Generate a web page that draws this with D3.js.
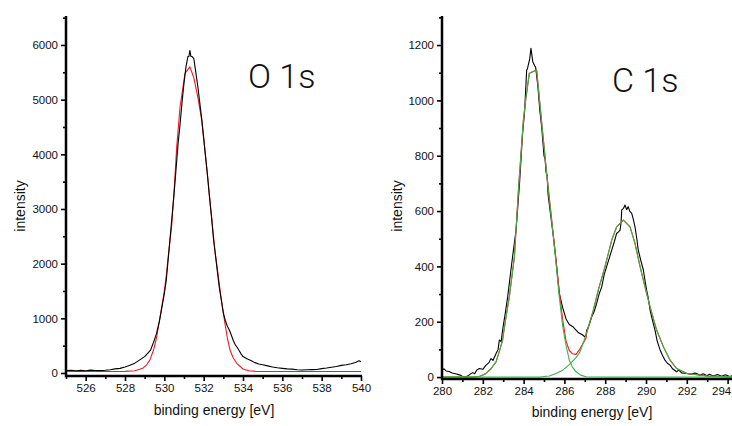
<!DOCTYPE html>
<html>
<head>
<meta charset="utf-8">
<script src="https://cdn.jsdelivr.net/npm/d3@7"></script>
<style>
html,body{margin:0;padding:0;background:#fff;}
svg{display:block;}
text{font-family:"Liberation Sans",Arial,sans-serif;fill:#111;}
</style>
</head>
<body>
<svg id="chart" width="732" height="426"></svg>
<script>
// ---------- O 1s panel ----------
const o1sEnergy = [525.0,525.25,525.5,525.75,526.0,526.25,526.5,526.75,527.0,527.25,527.5,527.75,528.0,528.25,528.5,528.75,529.0,529.15,529.3,529.45,529.6,529.75,529.9,530.0,530.1,530.2,530.3,530.4,530.5,530.6,530.7,530.8,530.9,531.0,531.1,531.2,531.25,531.3,531.35,531.4,531.5,531.6,531.7,531.8,531.9,532.0,532.1,532.2,532.3,532.4,532.5,532.6,532.7,532.8,532.9,533.0,533.1,533.2,533.3,533.4,533.5,533.6,533.7,533.8,533.9,534.0,534.2,534.4,534.6,534.8,535.0,535.25,535.5,535.75,536.0,536.25,536.5,536.75,537.0,537.25,537.5,537.75,538.0,538.25,538.5,538.75,539.0,539.25,539.5,539.75,539.9,540.0];
const o1sMeasured = [45,50,42,48,40,52,45,44,50,60,75,85,110,140,180,240,300,360,420,560,720,950,1250,1450,1700,2100,2500,2900,3300,3750,4200,4550,4950,5300,5600,5790,5790,5900,5790,5790,5750,5500,5250,4950,4650,4300,3950,3600,3200,2850,2450,2150,1850,1550,1330,1100,960,860,790,700,600,520,470,410,350,300,260,230,190,165,150,130,110,95,85,75,70,60,55,58,62,65,80,90,105,120,140,150,170,195,225,205];
const o1sFitEnergy = [525.0,527.0,528.0,528.5,528.9,529.1,529.27,529.45,529.6,529.7,529.8,530.0,530.1,530.2,530.37,530.5,530.63,530.8,531.05,531.3,531.5,531.7,531.9,532.15,532.4,532.57,532.75,532.9,533.08,533.2,533.34,533.5,533.68,534.0,534.3,534.7,540.0];
const o1sFit = [28,28,30,40,85,150,240,420,640,850,1060,1500,1790,2130,2680,3350,4140,4870,5480,5600,5400,5050,4630,3770,2860,2250,1750,1335,910,650,420,280,177,73,40,28,28];
const o1sXTicks = [526,528,530,532,534,536,538,540];
const o1sYTicks = [0,1000,2000,3000,4000,5000,6000];

// ---------- C 1s panel ----------
const c1sEnergy = [280.0,280.1,280.2,280.35,280.5,280.7,280.85,281.0,281.18,281.3,281.5,281.6,281.7,281.83,282.0,282.16,282.3,282.4,282.5,282.65,282.75,282.81,282.9,282.97,283.1,283.22,283.35,283.46,283.63,283.8,283.95,284.05,284.15,284.18,284.3,284.36,284.45,284.55,284.59,284.7,284.8,284.89,285.0,285.05,285.1,285.15,285.2,285.3,285.46,285.59,285.75,285.92,286.08,286.24,286.4,286.57,286.7,286.9,287.0,287.06,287.1,287.2,287.34,287.45,287.58,287.7,287.83,287.95,288.07,288.2,288.32,288.45,288.56,288.65,288.73,288.78,288.81,288.9,288.97,289.05,289.13,289.2,289.3,289.38,289.46,289.55,289.62,289.75,289.87,289.95,290.03,290.1,290.2,290.3,290.44,290.55,290.69,290.8,290.93,291.05,291.18,291.3,291.5,291.6,291.75,292.0,292.2,292.4,292.65,292.8,293.0,293.1,293.3,293.5,293.7,293.9,294.1,294.3,294.5];
const c1sMeasured = [25,30,22,20,15,11,8,3,1,6,16,12,25,31,28,43,52,67,60,85,100,134,128,170,230,290,370,435,531,700,880,960,1110,1112,1150,1188,1140,1124,1120,1050,960,900,800,790,740,730,660,600,507,420,302,250,210,190,183,170,160,152,145,153,170,185,218,235,266,300,326,370,399,430,459,490,519,525,531,560,604,610,622,605,616,600,592,570,543,500,459,420,387,350,314,290,242,210,170,130,98,80,61,50,43,30,19,25,15,13,10,15,7,12,5,10,4,9,3,8,2,6,3];
const c1sPeak1Energy = [280.0,281.5,281.83,282.16,282.4,282.65,282.8,282.97,283.1,283.3,283.55,283.75,283.99,284.1,284.28,284.64,284.89,285.13,285.46,285.59,285.75,285.92,286.08,286.24,286.4,286.57,286.8,287.06,288.0,294.5];
const c1sPeak1 = [0,0,2,13,30,55,90,134,200,290,435,680,929,1000,1098,1110,917,736,507,411,290,182,115,61,35,19,7,1,0,0];
const c1sPeak2Energy = [280.0,284.8,285.26,285.59,285.92,286.24,286.57,286.76,287.09,287.42,287.66,287.99,288.32,288.56,288.89,289.22,289.46,289.71,289.95,290.2,290.52,290.85,291.18,291.5,292.0,293.0,294.5];
const c1sPeak2 = [0,0,4,13,25,45,70,90,158,242,314,399,495,543,567,543,483,399,326,254,170,110,61,31,13,4,0];
const c1sSumEnergy = [280.0,281.5,281.83,282.16,282.4,282.65,282.8,282.97,283.1,283.3,283.55,283.75,283.99,284.1,284.28,284.64,284.89,285.13,285.46,285.59,285.75,285.92,286.08,286.24,286.4,286.57,286.75,287.06,287.09,287.42,287.66,287.99,288.32,288.56,288.89,289.22,289.46,289.71,289.95,290.2,290.52,290.85,291.18,291.5,292.0,293.0,294.5];
const c1sSum = [0,0,2,13,30,55,90,134,200,290,435,680,929,1000,1098,1110,918,738,512,424,310,205,130,96,84,82,100,140,160,242,314,399,495,543,567,543,483,399,326,254,170,110,61,31,13,4,0];
const c1sXTicks = [280,282,284,286,288,290,292,294];
const c1sYTicks = [0,200,400,600,800,1000,1200];

const svg = d3.select("#chart");

function panel(cfg) {
  const g = svg.append("g");
  const x = d3.scaleLinear().domain(cfg.xDomain).range(cfg.xRange);
  const y = d3.scaleLinear().domain(cfg.yDomain).range(cfg.yRange);
  const line = d3.line().x(d => x(d[0])).y(d => y(d[1]));

  cfg.series.forEach(s => {
    const pts = s.x.map((v, i) => [v, s.y[i]]);
    g.append("path").datum(pts).attr("d", line)
      .attr("fill", "none").attr("stroke", s.color)
      .attr("stroke-width", s.width).attr("stroke-linejoin", "round");
  });

  const xMinor = d3.range(Math.ceil(cfg.xDomain[0]), Math.floor(cfg.xDomain[1]) + 1, 1)
    .filter(v => !cfg.xTicks.includes(v));
  const yMinor = d3.range(0, cfg.yDomain[1], cfg.yTicks[1] / 2)
    .filter(v => !cfg.yTicks.includes(v));
  const y0 = cfg.yRange[0], x0 = cfg.xRange[0];
  const fmt = d3.format("d");

  const xa = g.append("g").attr("transform", `translate(0,${y0})`)
    .call(d3.axisBottom(x).tickValues(cfg.xTicks).tickSize(5).tickPadding(3).tickFormat(fmt));
  const xm = g.append("g").attr("transform", `translate(0,${y0})`)
    .call(d3.axisBottom(x).tickValues(xMinor).tickSize(3).tickFormat(""));
  const ya = g.append("g").attr("transform", `translate(${x0},0)`)
    .call(d3.axisLeft(y).tickValues(cfg.yTicks).tickSize(5).tickPadding(3).tickFormat(fmt));
  const ym = g.append("g").attr("transform", `translate(${x0},0)`)
    .call(d3.axisLeft(y).tickValues(yMinor).tickSize(3).tickFormat(""));
  [xa, xm, ya, ym].forEach(a => {
    a.select(".domain").remove();
    a.selectAll("line").attr("stroke", "#000").attr("stroke-width", 1.6);
    a.selectAll("text").style("font-size", "11.5px").attr("fill", "#111");
  });
  // keep the last x label inside the picture
  xa.selectAll(".tick text").each(function(d) {
    const bb = this.getBBox();
    const tx = x(d);
    const right = tx + bb.width / 2;
    if (right > 731) d3.select(this).attr("dx", (731 - right) + "px");
  });

  g.append("line").attr("x1", x0).attr("x2", cfg.xRange[1] + 1)
    .attr("y1", y0).attr("y2", y0).attr("stroke", "#000").attr("stroke-width", 2.5);
  g.append("line").attr("x1", x0).attr("x2", x0)
    .attr("y1", cfg.yRange[1]).attr("y2", y0 + 1.2).attr("stroke", "#000").attr("stroke-width", 2.5);

  g.append("text").attr("x", cfg.xTitlePos[0]).attr("y", cfg.xTitlePos[1])
    .attr("text-anchor", "middle").style("font-size", "14px").text("binding energy [eV]");
  g.append("text").attr("transform", `translate(${cfg.yTitlePos[0]},${cfg.yTitlePos[1]}) rotate(-90)`)
    .attr("text-anchor", "middle").style("font-size", "14px").text("intensity");
  g.append("text").attr("x", cfg.labelPos[0]).attr("y", cfg.labelPos[1])
    .style("font-size", "34px").style("font-family", "Roboto, 'Liberation Sans', sans-serif")
    .style("font-weight", "300").attr("fill", "#222").text(cfg.label);
}

panel({
  xDomain: [525, 540], xRange: [66, 361],
  yDomain: [-55, 6530], yRange: [376, 16],
  xTicks: o1sXTicks, yTicks: o1sYTicks,
  series: [
    {x: o1sFitEnergy, y: o1sFit, color: "#ee1c25", width: 1.1},
    {x: o1sEnergy, y: o1sMeasured, color: "#000", width: 1.1}
  ],
  xTitlePos: [214, 415], yTitlePos: [25, 206],
  label: "O 1s", labelPos: [248, 88]
});

panel({
  xDomain: [280, 294.5], xRange: [442, 737.8],
  yDomain: [-7, 1305], yRange: [379, 16],
  xTicks: c1sXTicks, yTicks: c1sYTicks,
  series: [
    {x: c1sEnergy, y: c1sMeasured, color: "#000", width: 1.1},
    {x: c1sSumEnergy, y: c1sSum, color: "#ee1c25", width: 1.1},
    {x: c1sPeak1Energy, y: c1sPeak1, color: "#3fae49", width: 1.1},
    {x: c1sPeak2Energy, y: c1sPeak2, color: "#3fae49", width: 1.1}
  ],
  xTitlePos: [592, 417], yTitlePos: [402, 206],
  label: "C 1s", labelPos: [612, 92]
});
</script>
</body>
</html>
